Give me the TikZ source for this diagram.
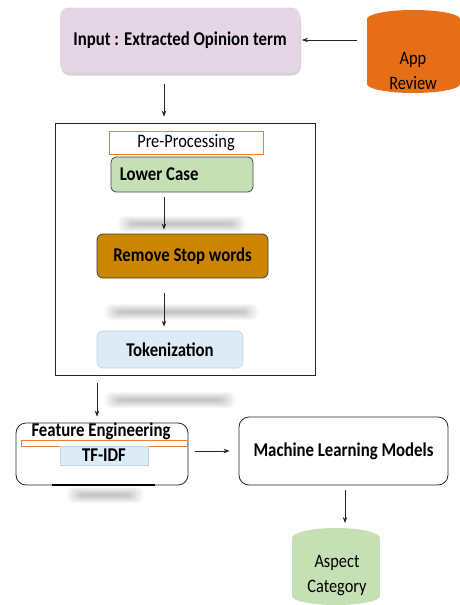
\documentclass[tikz,border=0pt]{standalone}
\usepackage{graphicx}
\usepackage{fontspec}
\setmainfont{Carlito}
\usetikzlibrary{arrows.meta,shadows}
\definecolor{lav}{RGB}{229,214,230}
\definecolor{appor}{RGB}{229,110,22}
\definecolor{lgreen}{RGB}{197,224,180}
\definecolor{rswor}{RGB}{204,133,0}
\definecolor{lblue}{RGB}{221,235,247}
\definecolor{bord}{RGB}{60,75,90}
\definecolor{orline}{RGB}{237,125,49}
\definecolor{bluebd}{RGB}{190,210,232}
\newcommand\sqz[1]{\scalebox{0.86}[1]{#1}}
\begin{document}
\begin{tikzpicture}[x=1pt,y=-1pt,
  bx/.style={rectangle,inner sep=0pt,font=\fontsize{19.5}{22}\selectfont\bfseries},
  rg/.style={font=\fontsize{19}{25}\selectfont,align=center,inner sep=0pt},
  arr/.style={-{Stealth[length=6pt,width=4.5pt]},line width=0.8pt,draw=black!85}]
\useasboundingbox (0,0) rectangle (460,605);
% blurred bars
\foreach \xa/\xb/\yy in {118/245/224, 105/258/312, 105/235/400, 67/143/495}{
  \foreach \i in {0,...,7}{
    \fill[black,opacity=0.03,rounded corners=5pt] (\xa+\i*2,\yy-8+\i) rectangle (\xb-\i*2,\yy+8-\i);
  }
}
% input
\node[bx,fill=lav,rounded corners=9pt,minimum width=240pt,minimum height=65pt,
  drop shadow={opacity=0.35,shadow xshift=1pt,shadow yshift=-3pt}] (input) at (180,40) {\sqz{Input : Extracted Opinion term}};
% app review cylinder
\fill[appor] (367,19) rectangle (460,84);
\fill[appor] (413.5,19) ellipse [x radius=46.5, y radius=9];
\fill[appor] (413.5,84) ellipse [x radius=46.5, y radius=9];
\node[rg] (apptxt) at (413,70.5) {\sqz{App}\\\sqz{Review}};
\coordinate (appw) at (357,40);
\draw[arr] (appw) -- (input.east -| 302,0);
% big box
\node[draw=black!85,line width=0.8pt,minimum width=260pt,minimum height=252pt,inner sep=0pt] (big) at (185,249) {};
\coordinate (colx) at (164,0);
\draw[arr,shorten <=11.5pt,shorten >=6pt] (input.south -| colx) -- (big.north -| colx);
% pre-processing
\node[rg,draw=orline,line width=0.8pt,fill=white,minimum width=154pt,minimum height=23pt] (pre) at (186,142.5) {\sqz{Pre-Processing}};
\node[bx,draw=bord,line width=0.8pt,fill=lgreen,rounded corners=5pt,minimum width=142pt,minimum height=35pt] (lower) at (182,174.5) {};
\node[bx,anchor=west] (lowertxt) at ([xshift=9pt]lower.west) {\sqz{Lower Case}};
\node[bx,draw=black!75,line width=0.8pt,fill=rswor,rounded corners=6pt,minimum width=171pt,minimum height=44pt] (rsw) at (182.5,256) {\sqz{Remove Stop words}};
\node[bx,draw=bluebd,line width=0.6pt,fill=lblue,rounded corners=6pt,minimum width=146pt,minimum height=37pt] (tok) at (170,349.5) {\sqz{Tokenization}};
\draw[arr,shorten <=5pt,shorten >=4pt] (lower.south -| colx) -- (rsw.north -| colx);
\draw[arr,shorten <=15pt,shorten >=4pt] (rsw.south -| colx) -- (tok.north -| colx);
% feature engineering
\node[draw=black!85,line width=0.8pt,fill=white,rounded corners=10pt,minimum width=172pt,minimum height=62pt,inner sep=0pt] (feat) at (102,454) {};
\draw[line width=2pt,black] (52,485) -- (155,485);
\node[bx] (feattxt) at (101,431) {\sqz{Feature Engineering}};
\draw[orline,line width=0.9pt] (21,440) rectangle (187,446);
\node[bx,draw=bluebd,line width=0.6pt,fill=lblue,minimum width=88pt,minimum height=19pt] (tfidf) at (104,455.5) {\sqz{TF-IDF}};
\coordinate (colf) at (97,0);
\draw[arr,shorten <=8pt,shorten >=6pt] (big.south -| colf) -- (feat.north -| colf);
% ML
\node[bx,draw=black!85,line width=0.8pt,fill=white,rounded corners=10pt,minimum width=209pt,minimum height=68pt] (ml) at (343.5,451) {\sqz{Machine Learning Models}};
\draw[arr,shorten <=7pt,shorten >=9pt] (feat.east |- ml.west) -- (ml.west);
% aspect category cylinder
\fill[lgreen] (292,538) rectangle (380,596);
\fill[lgreen] (336,538) ellipse [x radius=44, y radius=10];
\fill[lgreen] (336,596) ellipse [x radius=44, y radius=9];
\node[rg] (asptxt) at (337,575.5) {\sqz{Aspect}\\\sqz{Category}};
\coordinate (asptop) at (345,523);
\draw[arr,shorten <=5pt] (ml.south -| asptop) -- (asptop);
\end{tikzpicture}
\end{document}
